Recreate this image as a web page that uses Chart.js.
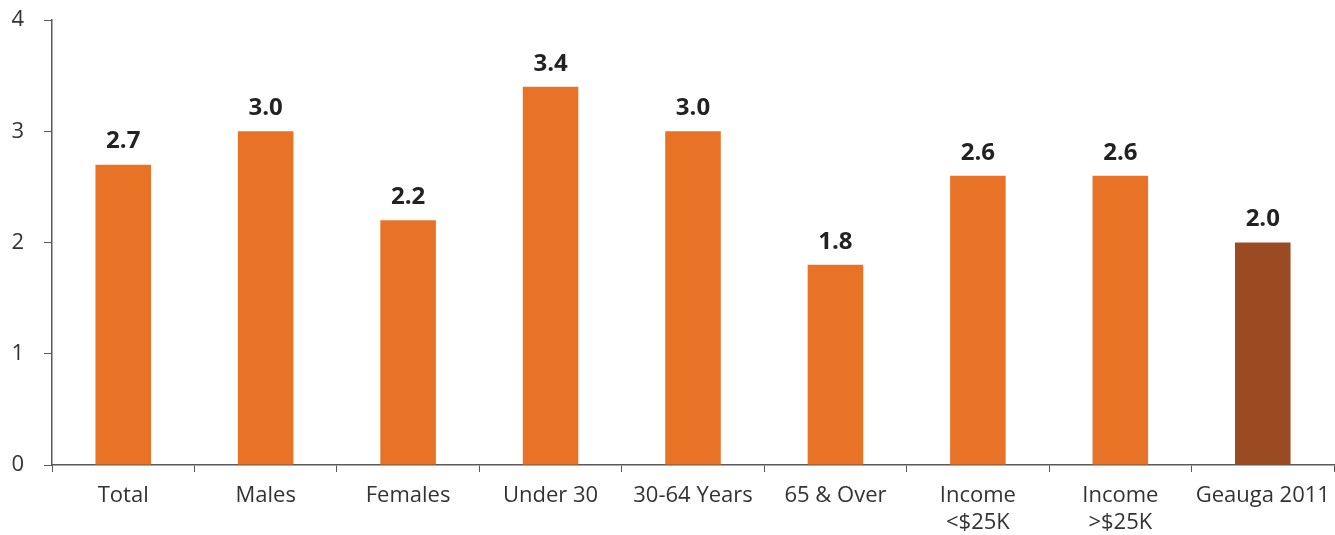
<!DOCTYPE html>
<html>
<head>
<meta charset="utf-8">
<script src="https://cdn.jsdelivr.net/npm/chart.js@4/dist/chart.umd.min.js"></script>
<style>
  html, body { margin: 0; padding: 0; background: #fff; }
  #wrap { width: 1335px; height: 535px; position: relative; }
</style>
</head>
<body>
<div id="wrap"><canvas id="c"></canvas></div>
<script>
// Category labels (multi-line where the label wraps)
const categories = [
  'Total', 'Males', 'Females', 'Under 30', '30-64 Years', '65 & Over',
  ['Income', '<$25K'], ['Income', '>$25K'], 'Geauga 2011'
];
// Values per category
const values = [2.7, 3.0, 2.2, 3.4, 3.0, 1.8, 2.6, 2.6, 2.0];
// Y-axis tick values
const yTicks = [0, 1, 2, 3, 4];

const ORANGE = '#E87326';
const BROWN = '#9B4B21';
const barColors = values.map((v, i) => i === values.length - 1 ? BROWN : ORANGE);

const FONT = "'Open Sans', 'Noto Sans', sans-serif";

// Bold value labels above each bar
const valueLabels = {
  id: 'valueLabels',
  afterDatasetsDraw(chart) {
    const ctx = chart.ctx;
    const meta = chart.getDatasetMeta(0);
    ctx.save();
    ctx.font = "bold 24px " + FONT;
    ctx.fillStyle = '#222';
    ctx.textAlign = 'center';
    ctx.textBaseline = 'middle';
    meta.data.forEach((bar, i) => {
      ctx.fillText(values[i].toFixed(1), bar.x, bar.y - 23);
    });
    ctx.restore();
  }
};

new Chart(document.getElementById('c'), {
  type: 'bar',
  data: {
    labels: categories,
    datasets: [{
      data: values,
      backgroundColor: barColors,
      borderWidth: 0,
      barPercentage: 0.39,
      categoryPercentage: 1.0
    }]
  },
  options: {
    responsive: true,
    maintainAspectRatio: false,
    animation: false,
    layout: { padding: { top: 20, right: 1, left: 0, bottom: 0 } },
    plugins: { legend: { display: false }, tooltip: { enabled: false } },
    scales: {
      x: {
        offset: true,
        grid: {
          offset: true,
          drawOnChartArea: false,
          drawTicks: true,
          tickLength: 7,
          color: '#595959',
          lineWidth: 1
        },
        border: { display: true, color: '#595959', width: 1.5 },
        ticks: {
          color: '#333',
          font: { family: FONT, size: 22, lineHeight: 1.23 },
          padding: 10,
          maxRotation: 0,
          autoSkip: false
        },
        afterFit(scale) {
          scale.height = 70;
          scale.paddingLeft = 0;
          scale.paddingRight = 0;
        }
      },
      y: {
        min: 0,
        max: 4,
        afterBuildTicks(scale) { scale.ticks = yTicks.map(v => ({ value: v })); },
        grid: {
          drawOnChartArea: false,
          drawTicks: true,
          tickLength: 8,
          color: '#595959',
          lineWidth: 1
        },
        border: { display: true, color: '#595959', width: 1.5 },
        ticks: {
          color: '#333',
          font: { family: FONT, size: 22 },
          padding: 20
        },
        afterFit(scale) {
          scale.width = 52;
          scale.paddingTop = 0;
          scale.paddingBottom = 0;
        }
      }
    }
  },
  plugins: [valueLabels]
});
</script>
</body>
</html>
